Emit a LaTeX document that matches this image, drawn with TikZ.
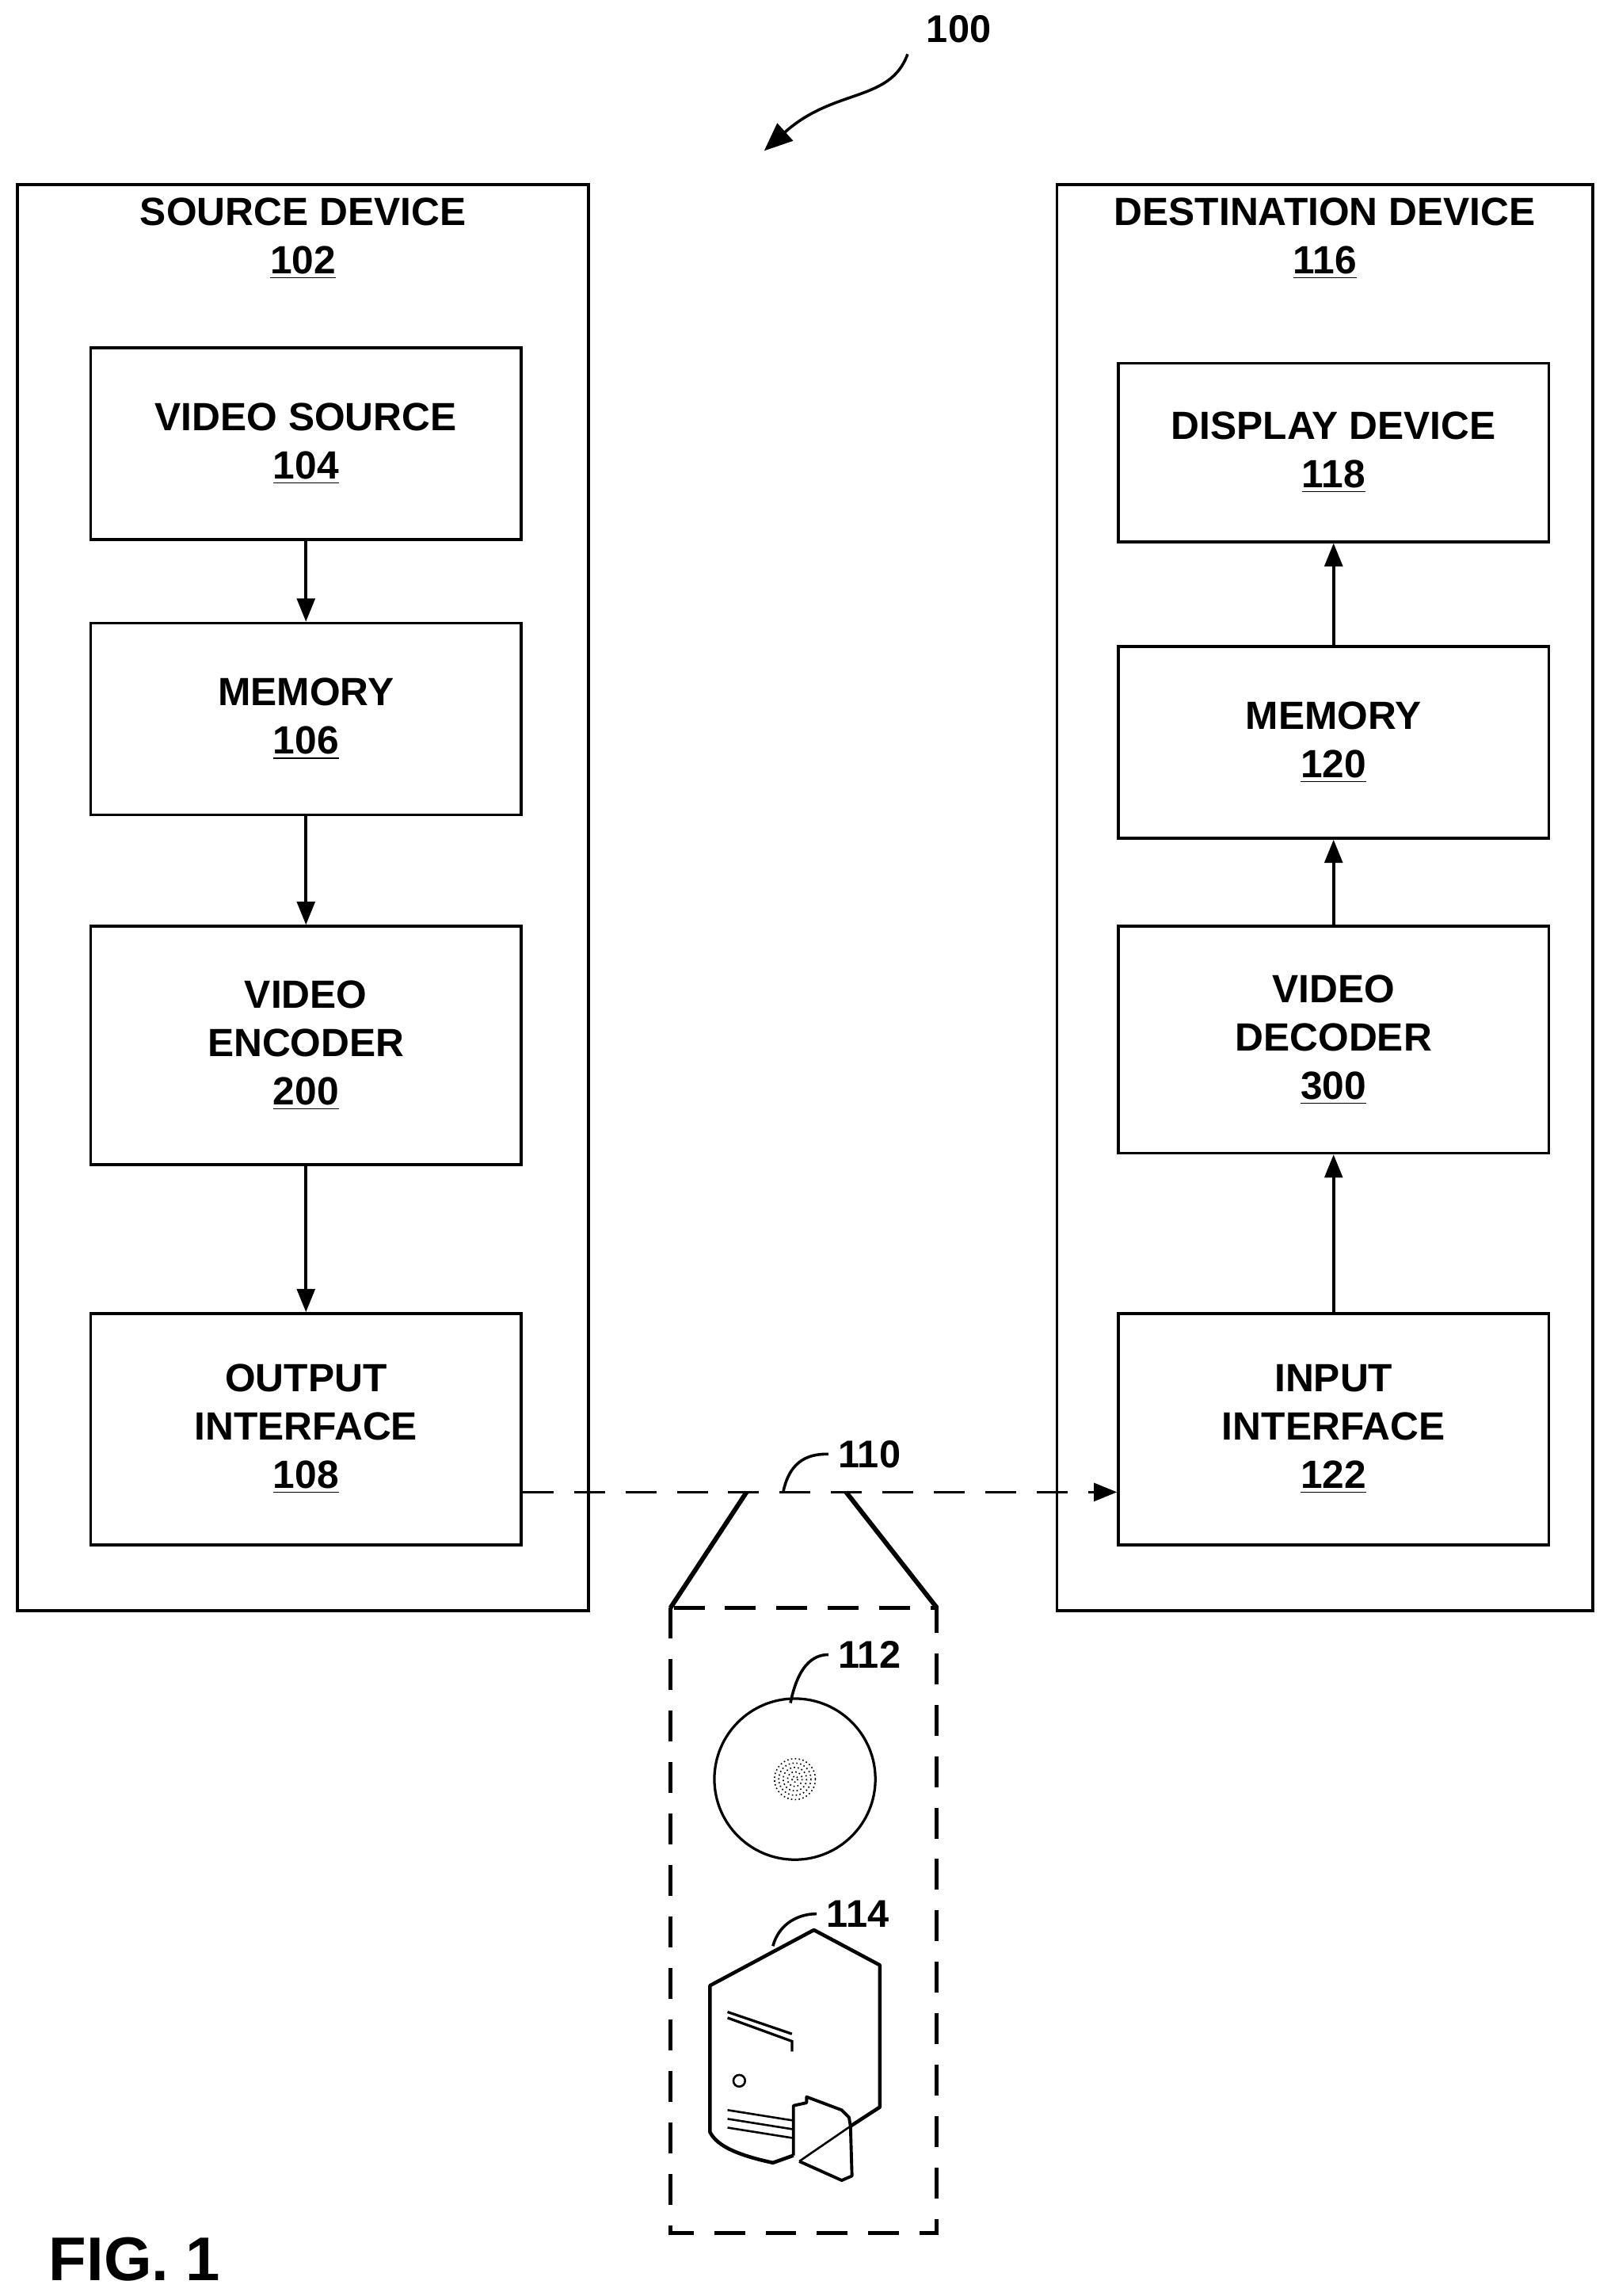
\documentclass[tikz,border=0pt]{standalone}
\usepackage{fontspec}
\setmainfont{Liberation Sans}
\usetikzlibrary{arrows.meta}
\begin{document}
\begin{tikzpicture}
		[x=0.02cm,y=-0.02cm,line width=1.1pt,
		Block/.style={draw,rectangle,minimum width=5.88cm,align=center,font=\fontsize{15.3}{18.8}\selectfont\bfseries},
		Frame/.style={draw,rectangle,inner sep=0pt},
		Lbl/.style={font=\fontsize{15}{16}\selectfont\bfseries},
		Dash/.style={dashed,dash pattern=on 12pt off 8pt,line width=1.6pt}]
		\useasboundingbox (0,0) rectangle (1100,1568);

		% 外框
		\node[Frame,minimum width=7.8cm,minimum height=19.48cm] (src) at (207,613) {};
		\node[Frame,minimum width=7.32cm,minimum height=19.48cm] (dst) at (905,613) {};
		\node[Block,draw=none,minimum width=0] (src_t) at (207,163) {SOURCE DEVICE\\\underline{102}};
		\node[Block,draw=none,minimum width=0] (dst_t) at (905,163) {DESTINATION DEVICE\\\underline{116}};

		% 源设备内部结点
		\node[Block,minimum height=2.62cm] (vs) at (209,303) {VIDEO SOURCE\\\underline{104}};
		\node[Block,minimum height=2.62cm] (m1) at (209,491) {MEMORY\\\underline{106}};
		\node[Block,minimum height=3.26cm] (enc) at (209,714) {VIDEO\\ENCODER\\\underline{200}};
		\node[Block,minimum height=3.16cm] (out) at (209,976) {OUTPUT\\INTERFACE\\\underline{108}};

		% 目的设备内部结点
		\node[Block,minimum height=2.44cm] (disp) at (911,309) {DISPLAY DEVICE\\\underline{118}};
		\node[Block,minimum height=2.62cm] (m2) at (911,507) {MEMORY\\\underline{120}};
		\node[Block,minimum height=3.1cm] (dec) at (911,710) {VIDEO\\DECODER\\\underline{300}};
		\node[Block,minimum height=3.16cm] (in) at (911,976) {INPUT\\INTERFACE\\\underline{122}};

		% 连线
		\foreach \a/\b in {vs/m1,m1/enc,enc/out,in/dec,dec/m2,m2/disp}
		\draw[-{Triangle[length=9pt,width=7pt]}](\a)--(\b);

		% 传输介质
		\coordinate (o_r) at (out.east |- 0,1019);
		\coordinate (i_l) at (in.west |- 0,1019);
		\draw[Dash,line width=1.1pt,-{Triangle[length=9pt,width=7pt]}](o_r)--(i_l);
		\draw[line width=1.8pt](510,1019)--(458,1098) (578,1019)--(640,1098);
		\draw[Dash](458,1098) rectangle (640,1525);
		\node[Lbl] (n110) at (594,993) {110};
		\draw (535,1019) .. controls (540,995) and (555,993) .. (n110.west);

		% 光盘
		\node[draw,circle,minimum size=2.2cm,line width=1pt] (disc) at (543,1215) {};
		\foreach \r in {2,5,8,11,14}
		\draw[densely dotted,line width=0.5pt](543,1215) circle (\r);
		\node[Lbl] (n112) at (594,1130) {112};
		\draw (540,1163) .. controls (545,1138) and (555,1130) .. (n112.west);

		% 文件服务器
		\draw[line width=1.4pt,line join=round] (542,1472)--(528,1477) .. controls (505,1472) and (490,1466) .. (485,1456)
		  --(485,1356)--(556,1318)--(601,1342)--(601,1439)--(581,1452);
		\draw[line width=1pt] (497,1374)--(541,1389) (497,1378)--(541,1394)--(541,1401);
		\draw[line width=0.8pt] (505,1421) circle (4);
		\foreach \d in {0,6,12}
		\draw[line width=0.8pt] (497,1441+\d)--(541,1448+\d);
		\draw[line width=1.2pt,line join=round] (542,1472)--(542,1438)--(551,1436)--(551,1432)--(575,1441)--(580,1446)--(581,1452)--(582,1486)--(575,1489)--(546,1476);
		\draw[line width=0.8pt] (546,1476)--(581,1452);
		\node[Lbl] (n114) at (586,1307) {114};
		\draw (528,1329) .. controls (532,1314) and (545,1307) .. (n114.west);

		% 系统编号
		\node[Lbl] (n100) at (655,20) {100};
		\coordinate (a100) at (522,103);
		\draw[-{Triangle[length=11pt,width=9pt]}] (620,37) .. controls (608,70) and (570,60) .. (a100);

		\node[font=\fontsize{24}{28}\selectfont\bfseries] (fig) at (92,1543) {FIG. 1};
\end{tikzpicture}
\end{document}
